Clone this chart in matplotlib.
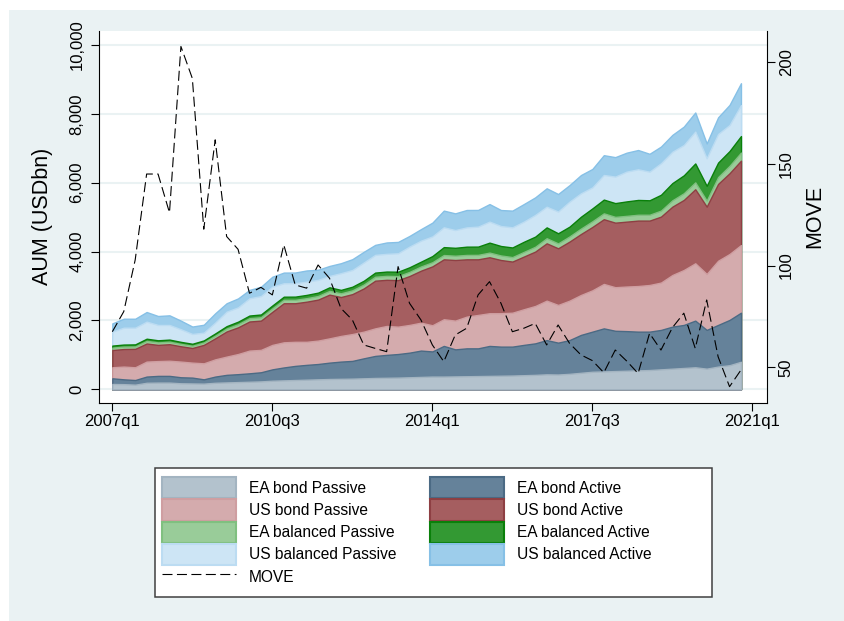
import numpy as np
import pandas as pd
import matplotlib
matplotlib.use('Agg')
import matplotlib.pyplot as plt
from matplotlib.patches import Patch, Rectangle
from matplotlib.lines import Line2D

plt.rcParams['font.family'] = ['Liberation Sans', 'DejaVu Sans']

# quarterly observations 2007q1 .. 2020q4
quarters = [str(p).replace('Q', 'q') for p in pd.period_range('2007Q1', '2020Q4', freq='Q')]

x_tick_pos = [0, 14, 28, 42, 56]
x_tick_labels = ['2007q1', '2010q3', '2014q1', '2017q3', '2021q1']
y_ticks = [0, 2000, 4000, 6000, 8000, 10000]
move_ticks = [50, 100, 150, 200]

# AUM by segment, USD bn
ea_bond_passive = [155, 150, 135, 190, 195, 195, 175, 170, 165, 190, 200, 210, 220, 230, 250,
                   260, 270, 280, 290, 300, 305, 310, 320, 330, 335, 340, 350, 360, 370,
                   370, 375, 380, 385, 390, 395, 400, 410, 420, 435, 430, 450, 480, 510,
                   520, 530, 540, 550, 560, 580, 600, 620, 640, 600, 660, 700, 800]
ea_bond_active = [165, 140, 135, 180, 195, 195, 175, 170, 125, 180, 220, 230, 245, 265, 330,
                  375, 410, 430, 445, 475, 500, 515, 580, 640, 665, 685, 715, 765, 730,
                  890, 785, 810, 805, 870, 845, 840, 880, 915, 995, 925, 980, 1100, 1165,
                  1250, 1170, 1150, 1125, 1115, 1145, 1220, 1250, 1355, 1125, 1210, 1315, 1425]
us_bond_passive = [320, 370, 370, 435, 430, 440, 455, 435, 465, 500, 530, 585, 660, 650, 710,
                   730, 700, 670, 680, 705, 745, 780, 775, 800, 840, 795, 805, 810, 760,
                   775, 835, 920, 970, 950, 970, 985, 1035, 1085, 1145, 1095, 1145, 1160, 1200,
                   1290, 1265, 1295, 1325, 1355, 1375, 1500, 1595, 1665, 1625, 1865, 1915, 1965]
us_bond_active = [500, 510, 535, 525, 470, 480, 445, 425, 535, 610, 730, 775, 845, 850, 960,
                  1135, 1120, 1165, 1190, 1270, 1130, 1160, 1255, 1385, 1340, 1350, 1420, 1510, 1710,
                  1740, 1760, 1665, 1615, 1625, 1545, 1485, 1530, 1580, 1665, 1645, 1715, 1770, 1840,
                  1880, 1875, 1885, 1900, 1870, 1915, 1985, 2035, 2150, 1955, 2230, 2345, 2450]
ea_bal_passive = [70, 70, 70, 75, 72, 72, 68, 65, 70, 78, 85, 90, 95, 98, 100,
                  100, 100, 102, 105, 108, 108, 110, 112, 115, 115, 118, 120, 122, 120,
                  125, 125, 128, 130, 135, 132, 130, 135, 140, 148, 142, 150, 158, 165,
                  170, 168, 168, 170, 170, 175, 185, 195, 200, 175, 200, 215, 235]
ea_bal_active = [60, 60, 60, 65, 62, 62, 60, 58, 60, 65, 70, 75, 78, 80, 85,
                 90, 92, 95, 98, 105, 100, 105, 112, 120, 125, 128, 135, 140, 180,
                 230, 230, 240, 240, 290, 275, 280, 295, 295, 315, 295, 285, 345, 375,
                 400, 400, 420, 430, 420, 460, 500, 520, 550, 430, 420, 430, 480]
us_bal_passive = [405, 490, 485, 495, 445, 425, 365, 285, 225, 315, 420, 415, 500, 535, 545,
                  390, 390, 385, 370, 330, 485, 485, 530, 515, 515, 535, 600, 610, 570,
                  575, 515, 560, 580, 610, 580, 585, 585, 630, 600, 630, 725, 680, 610,
                  715, 770, 865, 890, 830, 915, 910, 880, 925, 800, 830, 755, 900]
us_bal_active = [240, 260, 260, 280, 260, 280, 250, 215, 230, 270, 245, 260, 245, 270, 290,
                 310, 310, 325, 295, 290, 290, 315, 310, 290, 330, 330, 310, 335, 400,
                 485, 485, 505, 485, 510, 465, 485, 510, 510, 535, 510, 480, 530, 535,
                 575, 565, 550, 560, 520, 485, 490, 535, 555, 430, 485, 585, 635]

# MOVE index (right axis)
move = [67.5, 77.4, 102.8, 145, 145, 126, 207.7, 192, 117.9, 161.8, 114.3, 108, 86.4, 89.3, 85.6,
        110.2, 90.5, 88.9, 100.3, 93.8, 79, 73.3, 61, 59.3, 57.7, 99.5, 81.5, 73.3, 61,
        52.8, 65.9, 69.2, 85.6, 92.1, 81.5, 67.5, 69.2, 71.6, 61, 70.8, 61.8, 56.1, 53.3,
        47.4, 58.5, 53.1, 47, 66.7, 58.5, 69.5, 76.6, 59.3, 83.1, 55.2, 40.5, 48.7]

names = ['EA bond Passive', 'EA bond Active', 'US bond Passive', 'US bond Active',
         'EA balanced Passive', 'EA balanced Active', 'US balanced Passive', 'US balanced Active']
series = [ea_bond_passive, ea_bond_active, us_bond_passive, us_bond_active,
          ea_bal_passive, ea_bal_active, us_bal_passive, us_bal_active]
fills = ['#b3c2cd', '#65829a', '#d4abad', '#a55e60', '#99cc99', '#339933', '#cde5f5', '#9dcdeb']
edges = ['#a3b4c1', '#4b6a84', '#cf9ea1', '#8e3f43', '#80c080', '#0a800a', '#bcdcf2', '#86c0e6']
bg = '#eaf2f3'

fig = plt.figure(figsize=(8.44, 6.21), dpi=100)
fig.patch.set_facecolor('white')
fig.patches.append(Rectangle((9 / 844, 0), 1 - 9 / 844, 1 - 10 / 621, transform=fig.transFigure,
                             facecolor=bg, edgecolor='none', zorder=-10))

ax = fig.add_axes([0.1177, 0.3515, 0.7907, 0.5986])
x = np.arange(len(quarters))
stack = np.cumsum(np.vstack(series), axis=0)
# stata style: biggest cumulated area first, smaller ones on top
for k in reversed(range(len(series))):
    ax.fill_between(x, 0, stack[k], facecolor=fills[k], edgecolor=edges[k], linewidth=1.0, zorder=2)

ax.set_xlim(-1.137, 57.25)
ax.set_ylim(-389, 10407)
ax.set_xticks(x_tick_pos, x_tick_labels)
ax.set_yticks(y_ticks, [f'{v:,}' for v in y_ticks])
ax.yaxis.grid(True, color=bg, linewidth=1.5)
ax.set_axisbelow(True)
for s in ['top', 'right']:
    ax.spines[s].set_visible(False)
for s in ['left', 'bottom']:
    ax.spines[s].set_linewidth(0.8)
ax.tick_params(axis='x', length=5.8, width=0.8, pad=2.4, labelsize=12)
ax.tick_params(axis='y', length=5.8, width=0.8, pad=4.8, labelsize=12, labelrotation=90)
for lab in ax.get_yticklabels():
    lab.set_va('center')
ax.set_ylabel('AUM (USDbn)', fontsize=15.5)
ax.yaxis.label.set_va('center')
ax.yaxis.set_label_coords(-0.0859, 0.5)

ax2 = ax.twinx()
ax2.plot(x, move, color='black', linewidth=0.8, dashes=(9, 4))
ax2.set_ylim(32.6, 215.3)
ax2.set_yticks(move_ticks)
for s in ['top', 'left', 'bottom']:
    ax2.spines[s].set_visible(False)
ax2.spines['right'].set_linewidth(0.8)
ax2.tick_params(axis='y', length=5.8, width=0.8, pad=2.9, labelsize=12, labelrotation=90)
for lab in ax2.get_yticklabels():
    lab.set_va('center')
ax2.set_ylabel('MOVE', fontsize=15.5)
ax2.yaxis.label.set_va('center')
ax2.yaxis.set_label_coords(1.0724, 0.5)

# legend box (wider than its content, as in the original)
fig.patches.append(Rectangle((155 / 844, 1 - 597 / 621), 557 / 844, 129 / 621, transform=fig.transFigure,
                             facecolor='white', edgecolor='#404040', linewidth=1.1, zorder=1))
patches = [Patch(facecolor=f, edgecolor=e, linewidth=1.5, label=n) for f, e, n in zip(fills, edges, names)]
move_handle = Line2D([], [], color='black', linewidth=0.8, dashes=(9, 4), label='MOVE')
handles = patches[0::2] + [move_handle] + patches[1::2]
fig.legend(handles=handles, loc='upper left', bbox_to_anchor=(162.3 / 844, 1 - 477.3 / 621),
           ncol=2, frameon=False, fontsize=11.2, borderpad=0, borderaxespad=0,
           handlelength=4.75, handleheight=1.71, handletextpad=0.8, labelspacing=0.07,
           columnspacing=2.2)

fig.savefig('out.png', dpi=100, facecolor=fig.get_facecolor())
